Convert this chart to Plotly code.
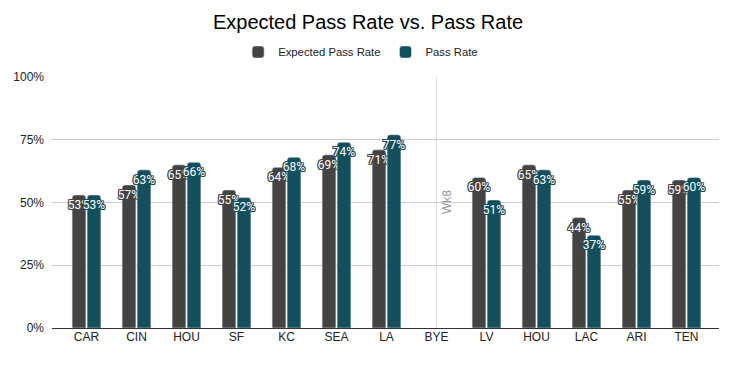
import plotly.graph_objects as go

opponents = ["CAR", "CIN", "HOU", "SF", "KC", "SEA", "LA", "BYE", "LV", "HOU", "LAC", "ARI", "TEN"]
expected_pass_rate = [53, 57, 65, 55, 64, 69, 71, None, 60, 65, 44, 55, 59]
pass_rate = [53, 63, 66, 52, 68, 74, 77, None, 51, 63, 37, 59, 60]
y_ticks = [0, 25, 50, 75, 100]
y_tick_labels = ["0%", "25%", "50%", "75%", "100%"]
bye_label = "Wk8"

x_pos = list(range(len(opponents)))
bye_index = opponents.index("BYE")

DARK = "#434343"
TEAL = "#134f5c"


def outline(c):
    return ", ".join(f"{dx}px {dy}px 0 {c}" for dx in (-1, 0, 1) for dy in (-1, 0, 1) if dx or dy)


fig = go.Figure()
for name, vals, color in [("Expected Pass Rate", expected_pass_rate, DARK), ("Pass Rate", pass_rate, TEAL)]:
    fig.add_trace(go.Bar(
        x=x_pos, y=vals, name=name, marker_color=color,
        texttemplate="%{y:.0f}%", textposition="inside", insidetextanchor="end", textangle=0,
        constraintext="none", cliponaxis=False,
        textfont=dict(family="Roboto", size=12, color="white", shadow=outline(color)),
        hoverinfo="skip",
    ))

fig.add_shape(type="line", xref="x", yref="y domain", x0=bye_index, x1=bye_index, y0=0, y1=1,
              line=dict(color="#e0e0e0", width=1), layer="below")
fig.add_annotation(x=bye_index, y=0.5, xref="x", yref="y domain", text=bye_label, showarrow=False,
                   textangle=-90, xshift=10, font=dict(family="Liberation Sans", size=12, color="#999999"))

fig.update_layout(
    width=736, height=365,
    margin=dict(l=52, r=17, t=77, b=37, autoexpand=False),
    paper_bgcolor="white", plot_bgcolor="white",
    title=dict(text="Expected Pass Rate vs. Pass Rate", x=0.5, xref="container", xanchor="center",
               y=1 - 22 / 365, yref="container", yanchor="middle",
               font=dict(family="Liberation Sans", size=20, color="#000000")),
    legend=dict(orientation="h", x=0.49, xref="container", xanchor="center",
                y=1 - 52 / 365, yref="container", yanchor="middle",
                font=dict(family="Liberation Sans", size=11.3, color="#222222"), itemwidth=30),
    barmode="group", bargap=0.4, bargroupgap=0.08, barcornerradius=3,
    xaxis=dict(tickmode="array", tickvals=x_pos, ticktext=opponents, range=[-0.69, 12.65],
               showgrid=False, ticks="", tickfont=dict(family="Liberation Sans", size=12, color="#222222"),
               showline=False, zeroline=False),
    yaxis=dict(range=[0, 100], tickvals=y_ticks, ticktext=y_tick_labels, showgrid=True,
               gridcolor="#cccccc", gridwidth=1, zeroline=True, zerolinecolor="#333333", zerolinewidth=1,
               tickfont=dict(family="Liberation Sans", size=12, color="#222222"), ticks="", ticklabelstandoff=7),
    showlegend=True,
)

fig.write_html("out.html", config={"displayModeBar": False},
               post_script="document.body.style.margin='0';document.body.style.overflow='hidden';")
